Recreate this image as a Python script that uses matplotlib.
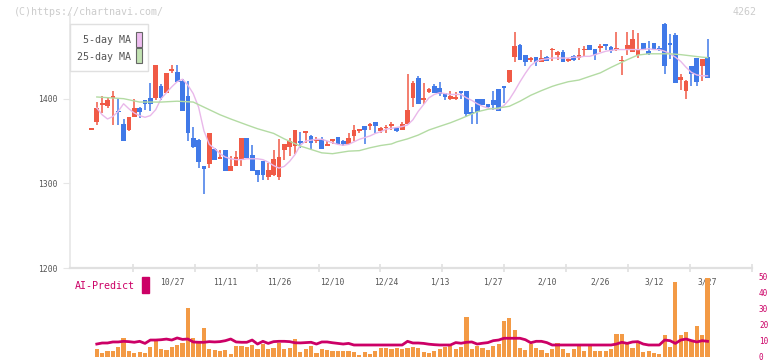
import numpy as np
import matplotlib.pyplot as plt
from matplotlib.patches import Rectangle

plt.rcParams["font.family"] = ["DejaVu Sans Mono"]

# daily candles (index 0 .. 115)
opens = [1363, 1372, 1393, 1391, 1401, 1386, 1370, 1363, 1378, 1389,
         1399, 1401, 1401, 1415, 1407, 1433, 1432, 1421, 1403, 1354,
         1351, 1320, 1323, 1341, 1329, 1339, 1315, 1321, 1328, 1353,
         1333, 1316, 1326, 1307, 1310, 1308, 1339, 1343, 1344, 1350,
         1359, 1356, 1350, 1352, 1344, 1350, 1355, 1350, 1346, 1356,
         1362, 1368, 1368, 1372, 1362, 1365, 1368, 1365, 1363, 1370,
         1401, 1425, 1399, 1408, 1415, 1413, 1407, 1400, 1400, 1409,
         1409, 1384, 1400, 1400, 1394, 1399, 1411, 1415, 1420, 1449,
         1463, 1451, 1446, 1449, 1443, 1449, 1457, 1452, 1455, 1444,
         1450, 1448, 1457, 1463, 1459, 1460, 1464, 1461, 1457, 1444,
         1459, 1455, 1452, 1466, 1456, 1466, 1460, 1488, 1466, 1475,
         1422, 1409, 1439, 1448, 1438, 1449]
highs = [1363, 1396, 1403, 1401, 1409, 1400, 1376, 1378, 1400, 1390,
         1399, 1418, 1440, 1417, 1430, 1440, 1440, 1423, 1421, 1367,
         1352, 1320, 1359, 1342, 1339, 1339, 1332, 1338, 1353, 1353,
         1345, 1316, 1326, 1324, 1339, 1352, 1347, 1354, 1363, 1361,
         1362, 1357, 1355, 1355, 1350, 1352, 1355, 1351, 1360, 1369,
         1364, 1368, 1371, 1372, 1367, 1369, 1372, 1367, 1372, 1429,
         1421, 1427, 1419, 1413, 1417, 1420, 1407, 1409, 1408, 1409,
         1409, 1390, 1400, 1400, 1394, 1409, 1411, 1415, 1434, 1479,
         1465, 1451, 1449, 1449, 1458, 1450, 1460, 1456, 1458, 1448,
         1451, 1460, 1462, 1463, 1459, 1465, 1465, 1462, 1479, 1450,
         1479, 1481, 1477, 1466, 1468, 1466, 1462, 1489, 1476, 1478,
         1429, 1422, 1439, 1448, 1447, 1470]
lows = [1363, 1369, 1383, 1389, 1369, 1369, 1350, 1362, 1378, 1377,
        1387, 1386, 1399, 1398, 1407, 1430, 1420, 1385, 1350, 1342,
        1318, 1287, 1318, 1327, 1329, 1314, 1315, 1320, 1321, 1330,
        1314, 1302, 1304, 1304, 1309, 1304, 1328, 1332, 1335, 1342,
        1348, 1339, 1348, 1340, 1344, 1346, 1347, 1344, 1346, 1350,
        1359, 1346, 1363, 1360, 1360, 1359, 1363, 1361, 1363, 1370,
        1390, 1394, 1394, 1407, 1407, 1403, 1399, 1399, 1399, 1400,
        1378, 1370, 1370, 1392, 1389, 1387, 1386, 1395, 1418, 1443,
        1446, 1439, 1443, 1438, 1443, 1444, 1445, 1446, 1443, 1443,
        1445, 1446, 1449, 1457, 1446, 1455, 1458, 1454, 1456, 1428,
        1452, 1455, 1448, 1457, 1452, 1458, 1456, 1429, 1447, 1419,
        1410, 1400, 1415, 1415, 1421, 1424]
closes = [1363, 1389, 1395, 1399, 1403, 1384, 1350, 1378, 1389, 1384,
          1394, 1394, 1440, 1401, 1430, 1435, 1420, 1386, 1359, 1343,
          1325, 1317, 1359, 1328, 1331, 1314, 1320, 1331, 1353, 1330,
          1314, 1310, 1310, 1316, 1329, 1331, 1347, 1350, 1363, 1348,
          1362, 1348, 1352, 1341, 1347, 1352, 1347, 1347, 1353, 1363,
          1364, 1363, 1370, 1368, 1365, 1367, 1369, 1362, 1370, 1387,
          1419, 1394, 1401, 1411, 1407, 1405, 1402, 1403, 1402, 1407,
          1382, 1382, 1384, 1393, 1390, 1393, 1386, 1413, 1434, 1462,
          1446, 1443, 1448, 1443, 1448, 1445, 1459, 1455, 1443, 1447,
          1446, 1451, 1459, 1458, 1452, 1462, 1462, 1456, 1460, 1446,
          1463, 1470, 1459, 1457, 1453, 1458, 1458, 1439, 1463, 1419,
          1425, 1421, 1429, 1420, 1447, 1424]

# 5-day MA, index 1 .. 115
ma5 = [1389, 1381, 1376, 1379, 1385, 1394, 1388, 1383, 1380, 1378,
       1380, 1387, 1400, 1407, 1414, 1420, 1423, 1416, 1406, 1390,
       1362, 1346, 1341, 1335, 1331, 1329, 1328, 1328, 1329, 1329,
       1329, 1328, 1325, 1321, 1318, 1320, 1326, 1334, 1345, 1350,
       1351, 1352, 1352, 1350, 1348, 1346, 1345, 1346, 1349, 1352,
       1354, 1356, 1359, 1361, 1364, 1365, 1366, 1367, 1369, 1375,
       1385, 1393, 1401, 1405, 1407, 1406, 1405, 1405, 1405, 1401,
       1398, 1394, 1391, 1389, 1388, 1388, 1392, 1399, 1409, 1420,
       1430, 1439, 1444, 1446, 1447, 1448, 1448, 1448, 1448, 1449,
       1449, 1450, 1450, 1452, 1454, 1456, 1457, 1458, 1458, 1458,
       1458, 1458, 1458, 1459, 1458, 1458, 1456, 1453, 1449, 1444,
       1437, 1431, 1428, 1427, 1427]

# 25-day MA, read at these candle indices
ma25_idx = [1, 6, 9, 13, 16, 19, 21, 24, 26, 29, 31, 34, 36, 39, 41, 43, 45,
            46, 48, 50, 52, 54, 56, 57, 59, 61, 63, 65, 67, 69, 71, 72, 74,
            76, 78, 80, 82, 84, 86, 87, 89, 91, 93, 95, 97, 99, 100, 102,
            104, 106, 108, 110, 112, 114, 115]
ma25 = [1402, 1400, 1396, 1396, 1397, 1396, 1390, 1381, 1376, 1369, 1364.5,
        1359, 1352.5, 1344, 1340, 1336, 1335, 1336, 1338, 1338.6, 1342,
        1344.7, 1346.5, 1349, 1352.5, 1357, 1363, 1367.3, 1371.5, 1376.5,
        1382, 1384.5, 1387.5, 1389, 1391, 1397, 1404, 1409.5, 1414.5,
        1416.5, 1420, 1422, 1426.3, 1430.5, 1437, 1443, 1446, 1451.5, 1453,
        1453, 1453, 1452, 1450.5, 1449, 1448.5]

# AI-Predict bars and line, index 1 .. 115
ai_bars = [5.0, 2.5, 3.75, 3.75, 6.25, 11.9, 3.75, 2.5, 3.1, 2.5,
           6.25, 10, 5, 4.4, 6.25, 7.5, 8.75, 30.6, 11.9, 8.75,
           18.1, 5, 4.4, 3.75, 4.4, 1.9, 6.9, 6.9, 6.25, 7.5,
           5, 8.1, 5, 5.6, 8.75, 5, 5.6, 11.25, 3.1, 5,
           6.9, 2.5, 5, 4.4, 3.75, 3.75, 3.75, 3.75, 3.1, 1.25,
           3.1, 1.9, 3.75, 5.6, 5.6, 5.0, 5.6, 5.0, 5.6, 6.3,
           5.6, 3.1, 2.5, 3.8, 5.0, 6.3, 6.9, 5.0, 6.3, 25.1,
           5.0, 6.9, 5.6, 4.4, 6.9, 8.2, 22.6, 24.5, 16.9, 5.6,
           4.4, 8.2, 5.6, 4.4, 2.5, 5.0, 8.8, 5.0, 2.5, 5.0,
           6.9, 3.8, 6.9, 3.8, 3.8, 3.8, 5.0, 14.4, 14.4, 8.2,
           5.6, 8.8, 3.1, 3.8, 2.5, 1.9, 13.8, 6.3, 47.1, 13.8,
           15.7, 10.0, 19.5, 13.8, 49.6]
ai_line = [8.1, 8.75, 8.75, 9.4, 9.4, 9.8, 9.6, 9.2, 9.8, 8.5,
           10.6, 10.6, 10.8, 11.2, 10.6, 11.9, 11.0, 11.25, 9.4, 9.2,
           9.2, 9.6, 9.4, 9.6, 10.2, 11.25, 9.4, 9.2, 9.2, 10.6,
           8.1, 9.8, 8.5, 9.6, 9.8, 9.8, 9.6, 8.9, 8.8, 9.0,
           9.2, 8.1, 9.4, 9.4, 8.9, 8.5, 8.1, 8.5, 7.5, 7.5,
           7.5, 7.5, 7.5, 7.5, 7.5, 7.5, 7.5, 7.5, 9.8, 8.75,
           8.75, 8.5, 8.0, 7.7, 7.5, 7.5, 7.5, 9.0, 8.6, 9.2,
           9.4, 8.1, 8.6, 9.0, 10.2, 10.6, 11.7, 11.7, 11.7, 11.7,
           10.8, 8.9, 9.8, 9.8, 9.0, 7.5, 7.5, 7.5, 7.5, 7.5,
           7.5, 7.5, 7.5, 7.5, 7.5, 7.5, 7.5, 8.1, 9.2, 8.5,
           9.4, 9.6, 8.1, 7.5, 7.5, 7.5, 10.6, 10.2, 8.5, 10.6,
           11.25, 10.2, 9.4, 10.2, 9.8]

date_pos = [15, 25, 35, 45, 55, 65, 75, 85, 95, 105, 115]
date_labels = ["10/27", "11/11", "11/26", "12/10", "12/24", "1/13",
               "1/27", "2/10", "2/26", "3/12", "3/27"]

up_color = "#f05a46"
down_color = "#4079e8"
magenta = "#cc0066"
W, H = 772, 361

fig = plt.figure(figsize=(7.72, 3.61), dpi=100)
ax = fig.add_axes([70 / W, 93 / H, 682 / W, 254 / H])
ax2 = fig.add_axes([70 / W, 4 / H, 682 / W, 80 / H])

idx = np.arange(len(opens))
o, h, l, c = map(np.array, (opens, highs, lows, closes))
cols = np.where(c >= o, up_color, down_color)
ax.vlines(idx, l, h, colors=cols, linewidth=1.1, zorder=2)
ax.bar(idx, np.maximum(np.abs(c - o), 2.0), bottom=np.minimum(o, c),
       width=0.88, color=cols, linewidth=0, zorder=2)

ax.plot(np.arange(1, len(ma5) + 1), ma5, color="#e9b8ea", lw=1.0, zorder=3)
ax.plot(ma25_idx, ma25, color="#b3dba3", lw=1.0, zorder=3)

ax.set_xlim(-4.0, 123.3)
ax.set_ylim(1200, 1500)
for s in ["top", "right"]:
    ax.spines[s].set_visible(False)
ax.spines["left"].set_color("#e6e6e6")
ax.spines["left"].set_linewidth(1.2)
ax.spines["bottom"].set_color("#e0e0e0")
ax.spines["bottom"].set_linewidth(1.6)
ax.set_yticks([1200, 1300, 1400])
ax.tick_params(axis="y", length=5, color="#e6e6e6", labelsize=5.8,
               labelcolor="#555555", pad=4)
ax.set_xticks(date_pos)
ax.set_xticklabels(date_labels)
ax.tick_params(axis="x", which="major", length=0, labelsize=5.8,
               labelcolor="#555555", pad=7)
ax.set_xticks(np.arange(7.75, 124, 11.55), minor=True)
ax.tick_params(axis="x", which="minor", direction="inout", length=6,
               width=1.2, color="#e0e0e0")

# AI-Predict panel
vx = np.arange(1, len(ai_bars) + 1)
ax2.bar(vx, ai_bars, width=0.78, color="#f39a45", linewidth=0)
ax2.plot(vx, ai_line, color=magenta, lw=2.0)
ax2.set_xlim(-4.0, 123.3)
ax2.set_ylim(0, 50)
for s in ax2.spines.values():
    s.set_visible(False)
ax2.set_xticks([])
ax2.yaxis.tick_right()
ax2.set_yticks([0, 10, 20, 30, 40, 50])
ax2.tick_params(axis="y", length=0, labelsize=5.5, labelcolor=magenta, pad=5)
for t in ax2.get_yticklabels():
    t.set_verticalalignment("center_baseline")
ax2.patch.set_alpha(0)

fig.text(75 / W, 1 - 286 / H, "AI-Predict", color=magenta, fontsize=7.2,
         va="center", ha="left")
fig.patches.append(Rectangle((142 / W, 1 - 293 / H), 7 / W, 16 / H,
                             transform=fig.transFigure, color=magenta))

# legend box
fig.patches.append(Rectangle((70 / W, 1 - 71 / H), 78 / W, 47 / H,
                             transform=fig.transFigure, facecolor="white",
                             edgecolor="#e0e0e0", lw=1, zorder=5))
fig.text(131 / W, 1 - 40 / H, "5-day MA", color="#555555", fontsize=7.2,
         ha="right", va="center", zorder=6)
fig.text(131 / W, 1 - 57 / H, "25-day MA", color="#555555", fontsize=7.2,
         ha="right", va="center", zorder=6)
fig.patches.append(Rectangle((136 / W, 1 - 47 / H), 6 / W, 15 / H,
                             transform=fig.transFigure, facecolor="#eebdf0",
                             edgecolor="#666666", lw=0.8, zorder=6))
fig.patches.append(Rectangle((136 / W, 1 - 63 / H), 6 / W, 15 / H,
                             transform=fig.transFigure, facecolor="#c2e2b2",
                             edgecolor="#666666", lw=0.8, zorder=6))

fig.text(14 / W, 1 - 12 / H, "(C)https://chartnavi.com/", color="#cccccc",
         fontsize=7.2, va="center", ha="left")
fig.text(757 / W, 1 - 12 / H, "4262", color="#cccccc", fontsize=7.2,
         va="center", ha="right")

fig.savefig("out.png", dpi=100)
